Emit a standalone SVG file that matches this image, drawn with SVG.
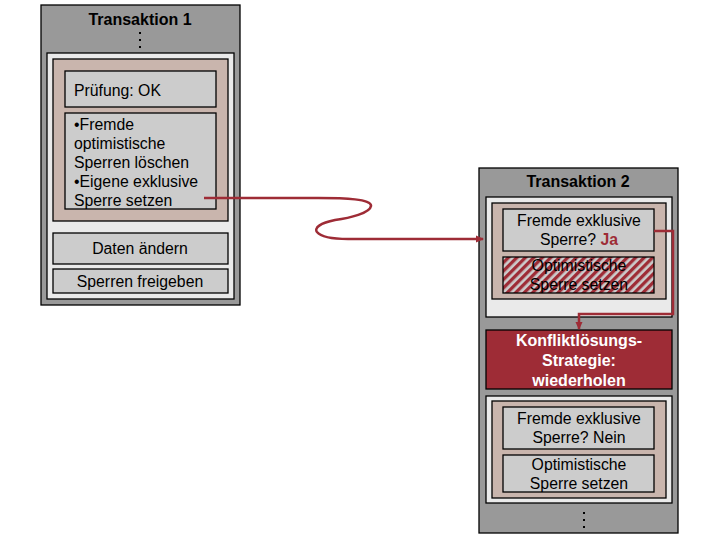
<svg xmlns="http://www.w3.org/2000/svg" width="720" height="540" viewBox="0 0 720 540">
<defs>
<style>
.outer{fill:#999999;stroke:#000;stroke-width:1.3}
.light{fill:#eaeaea;stroke:#000;stroke-width:1.3}
.brown{fill:#c9b5ad;stroke:#000;stroke-width:1.3}
.box{fill:#cccccc;stroke:#000;stroke-width:1.3}
.red{fill:#9e2c36;stroke:#000;stroke-width:1.3}
.hatch{fill:url(#hatch);stroke:#000;stroke-width:1.3}
text{font-family:"Liberation Sans",Arial,sans-serif;font-size:15.8px;fill:#000}
.title{font-weight:bold;font-size:16px;text-anchor:middle}
.c{text-anchor:middle}
.w{fill:#fff;font-weight:bold;font-size:16px;text-anchor:middle}
.ja{fill:#9e2c36;font-weight:bold}
.conn{fill:none;stroke:#9e2c36;stroke-width:2.5}
.dot{fill:#000}
</style>
<pattern id="hatch" patternUnits="userSpaceOnUse" width="6" height="6" patternTransform="rotate(45)">
<rect width="6" height="6" fill="#cccccc"/>
<rect width="3.3" height="6" fill="#9e2c36"/>
</pattern>
<marker id="arr" markerWidth="8" markerHeight="8" refX="7" refY="4" orient="auto" markerUnits="userSpaceOnUse">
<path d="M0,0.5 L8,4 L0,7.5 Z" fill="#9e2c36"/>
</marker>
</defs>

<g id="transaktion1">
<rect class="outer" x="41" y="5" width="199" height="300"/>
<text class="title" x="140" y="25">Transaktion 1</text>
<rect class="dot" x="139" y="32" width="2" height="2"/>
<rect class="dot" x="139" y="39" width="2" height="2"/>
<rect class="dot" x="139" y="46" width="2" height="2"/>
<rect class="light" x="47" y="53" width="187" height="246"/>
<rect class="brown" x="53" y="59" width="175" height="162"/>
<g id="pruefung">
<rect class="box" x="65" y="71" width="151" height="36"/>
<text x="74" y="96">Prüfung: OK</text>
</g>
<g id="sperren1">
<rect class="box" x="65" y="113" width="151" height="96"/>
<text x="74" y="130">•Fremde</text>
<text x="74" y="149">optimistische</text>
<text x="74" y="168">Sperren löschen</text>
<text x="74" y="187">•Eigene exklusive</text>
<text x="74" y="206">Sperre setzen</text>
</g>
<g id="daten">
<rect class="box" x="53" y="233" width="175" height="31"/>
<text class="c" x="140" y="254">Daten ändern</text>
</g>
<g id="freigeben">
<rect class="box" x="53" y="269" width="175" height="24"/>
<text class="c" x="140" y="287">Sperren freigeben</text>
</g>
</g>

<g id="transaktion2">
<rect class="outer" x="479" y="168" width="199" height="365"/>
<text class="title" x="578" y="187">Transaktion 2</text>
<rect class="light" x="486" y="197" width="186" height="120"/>
<rect class="brown" x="492" y="203" width="174" height="96"/>
<g id="pruef-ja">
<rect class="box" x="503" y="209" width="151" height="42"/>
<text class="c" x="579" y="226">Fremde exklusive</text>
<text class="c" x="579" y="245">Sperre? <tspan class="ja">Ja</tspan></text>
</g>
<g id="opt-hatched">
<rect class="hatch" x="503" y="257" width="151" height="36"/>
<text class="c" x="579" y="271">Optimistische</text>
<text class="c" x="579" y="290">Sperre setzen</text>
</g>
<g id="konflikt">
<rect class="red" x="486" y="330" width="186" height="59"/>
<text class="w" x="579" y="346">Konfliktlösungs-</text>
<text class="w" x="579" y="366">Strategie:</text>
<text class="w" x="579" y="386">wiederholen</text>
</g>
<rect class="light" x="486" y="396" width="186" height="107"/>
<rect class="brown" x="492" y="401" width="174" height="97"/>
<g id="pruef-nein">
<rect class="box" x="503" y="407" width="151" height="42"/>
<text class="c" x="579" y="424">Fremde exklusive</text>
<text class="c" x="579" y="443">Sperre? Nein</text>
</g>
<g id="opt-setzen">
<rect class="box" x="503" y="455" width="151" height="37"/>
<text class="c" x="579" y="470">Optimistische</text>
<text class="c" x="579" y="489">Sperre setzen</text>
</g>
<rect class="dot" x="583" y="512" width="2" height="2"/>
<rect class="dot" x="583" y="519" width="2" height="2"/>
<rect class="dot" x="583" y="526" width="2" height="2"/>
</g>

<g id="connectors">
<path class="conn" d="M204,198 H318 C345,198 372,199 371,206 C370,213 350,218 335,220 C320,223 314,228 317,232 C321,237 335,239 348,239 H483" marker-end="url(#arr)"/>
<path class="conn" d="M654,231 H673 V314 H579 V329" marker-end="url(#arr)"/>
</g>
</svg>
